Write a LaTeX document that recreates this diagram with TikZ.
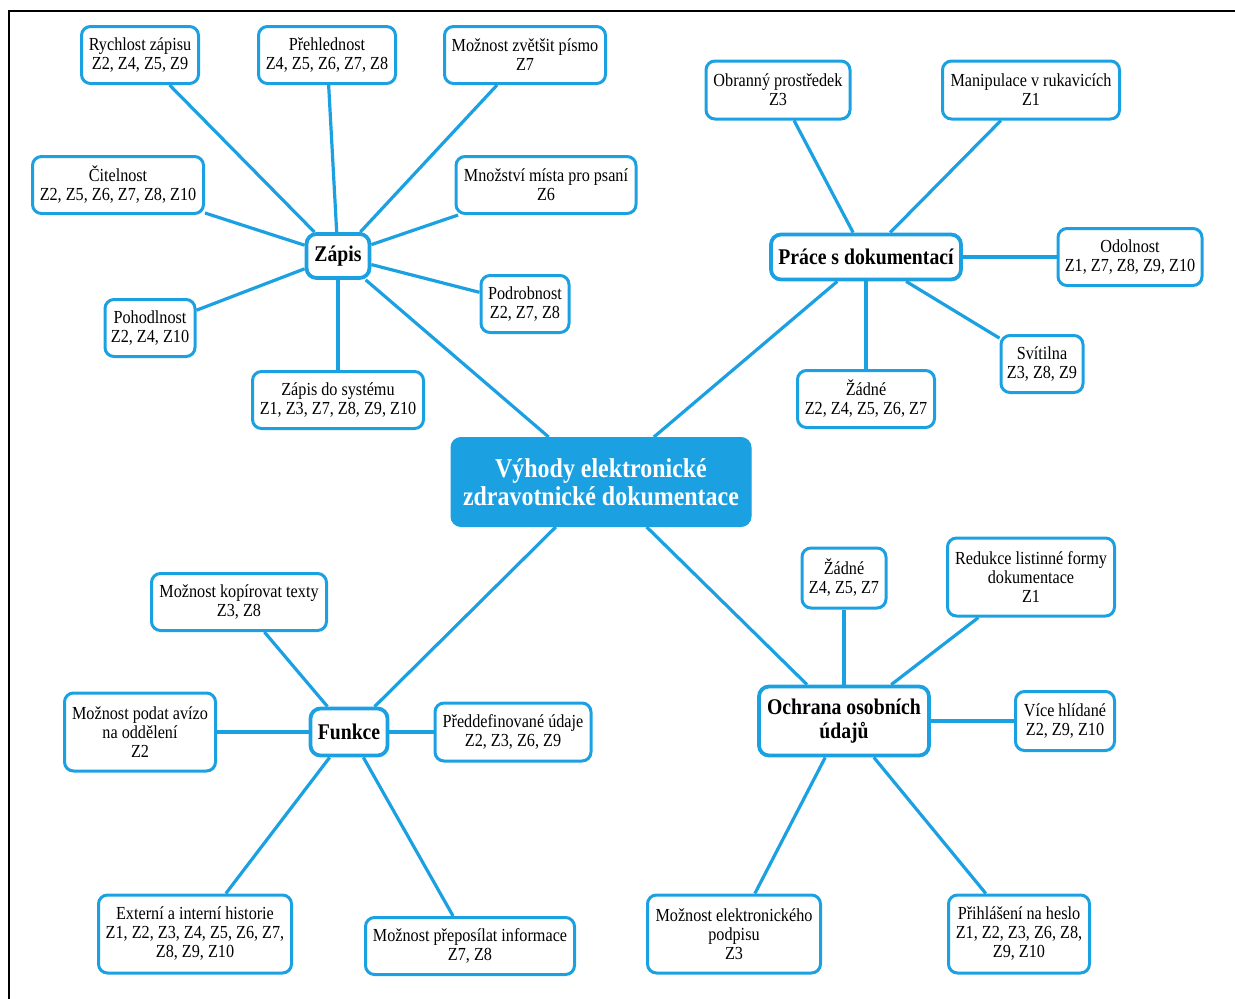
\documentclass[tikz,border=0pt]{standalone}
\usepackage{fontspec}
\setmainfont{Liberation Serif}[FakeStretch=0.88]
\usetikzlibrary{backgrounds}
\definecolor{mmblue}{RGB}{27,161,226}
\begin{document}
\begin{tikzpicture}[x=1pt,y=-1pt,
  leaf/.style={draw=mmblue, line width=3pt, rounded corners=9pt, fill=white, align=center, inner sep=2pt, font=\fontsize{18.4}{19}\selectfont},
  hub/.style={draw=mmblue, line width=3.8pt, rounded corners=10pt, fill=white, align=center, inner sep=2pt, font=\bfseries\fontsize{22.4}{24.5}\selectfont},
  root/.style={fill=mmblue, draw=mmblue, line width=1pt, rounded corners=10pt, text=white, align=center, inner sep=2pt, font=\bfseries\fontsize{27.2}{28.5}\selectfont},
  link/.style={draw=mmblue, line width=3.2pt},
  sz/.style 2 args={minimum width=#1pt, minimum height=#2pt},
]
\useasboundingbox (0,0) rectangle (1235,999);
\draw[line width=2pt] (9,999) -- (9,11) -- (1236,11);

% root
\node[root, sz={300}{89}] (root) at (601,482) {Výhody elektronické\\zdravotnické dokumentace};

% hubs
\node[hub, sz={63}{44}] (zapis) at (338,256) {Zápis};
\node[hub, sz={190}{45}] (prace) at (866,257) {Práce s dokumentací};
\node[hub, sz={77}{47}] (funkce) at (349,732) {Funkce};
\node[hub, sz={170}{69}] (ochrana) at (844,721) {Ochrana osobních\\údajů};

% Zapis leaves
\node[leaf, sz={117}{57}] (rychlost) at (140,55) {Rychlost zápisu\\Z2, Z4, Z5, Z9};
\node[leaf, sz={137}{57}] (prehled) at (327,55) {Přehlednost\\Z4, Z5, Z6, Z7, Z8};
\node[leaf, sz={161}{57}] (zvetsit) at (525,55) {Možnost zvětšit písmo\\Z7};
\node[leaf, sz={171}{57}] (citel) at (118,185) {Čitelnost\\Z2, Z5, Z6, Z7, Z8, Z10};
\node[leaf, sz={180}{57}] (mnozstvi) at (546,185) {Množství místa pro psaní\\Z6};
\node[leaf, sz={88}{57}] (podrob) at (525,304) {Podrobnost\\Z2, Z7, Z8};
\node[leaf, sz={90}{57}] (pohodl) at (150,328) {Pohodlnost\\Z2, Z4, Z10};
\node[leaf, sz={171}{57}] (system) at (338,400) {Zápis do systému\\Z1, Z3, Z7, Z8, Z9, Z10};

% Prace leaves
\node[leaf, sz={144}{58}] (obran) at (778,90) {Obranný prostředek\\Z3};
\node[leaf, sz={177}{58}] (manip) at (1031,90) {Manipulace v rukavicích\\Z1};
\node[leaf, sz={144}{57}] (odol) at (1130,257) {Odolnost\\Z1, Z7, Z8, Z9, Z10};
\node[leaf, sz={82}{57}] (svit) at (1042,364) {Svítilna\\Z3, Z8, Z9};
\node[leaf, sz={137}{57}] (zadne1) at (866,399) {Žádné\\Z2, Z4, Z5, Z6, Z7};

% Funkce leaves
\node[leaf, sz={175}{57}] (kopir) at (239,602) {Možnost kopírovat texty\\Z3, Z8};
\node[leaf, sz={151}{78}] (aviz) at (140,732) {Možnost podat avízo\\na oddělení\\Z2};
\node[leaf, sz={156}{58}] (preddef) at (513,732) {Předdefinované údaje\\Z2, Z3, Z6, Z9};
\node[leaf, sz={193}{78}] (histor) at (195,934) {Externí a interní historie\\Z1, Z2, Z3, Z4, Z5, Z6, Z7,\\Z8, Z9, Z10};
\node[leaf, sz={209}{57}] (prepos) at (470,946) {Možnost přeposílat informace\\Z7, Z8};

% Ochrana leaves
\node[leaf, sz={84}{60}] (zadne2) at (844,578) {Žádné\\Z4, Z5, Z7};
\node[leaf, sz={167}{78}] (redukce) at (1031,577) {Redukce listinné formy\\dokumentace\\Z1};
\node[leaf, sz={99}{59}] (vice) at (1065,721) {Více hlídané\\Z2, Z9, Z10};
\node[leaf, sz={173}{78}] (podpis) at (734,934) {Možnost elektronického\\podpisu\\Z3};
\node[leaf, sz={141}{78}] (heslo) at (1019,934) {Přihlášení na heslo\\Z1, Z2, Z3, Z6, Z8,\\Z9, Z10};

\begin{scope}[on background layer]
\foreach \h in {zapis,prace,funkce,ochrana} \draw[link] (root) -- (\h);
\foreach \l in {rychlost,prehled,zvetsit,citel,mnozstvi,podrob,pohodl,system} \draw[link] (zapis) -- (\l);
\foreach \l in {obran,manip,odol,svit,zadne1} \draw[link] (prace) -- (\l);
\foreach \l in {kopir,aviz,preddef,histor,prepos} \draw[link] (funkce) -- (\l);
\foreach \l in {zadne2,redukce,vice,podpis,heslo} \draw[link] (ochrana) -- (\l);
\end{scope}
\end{tikzpicture}
\end{document}
